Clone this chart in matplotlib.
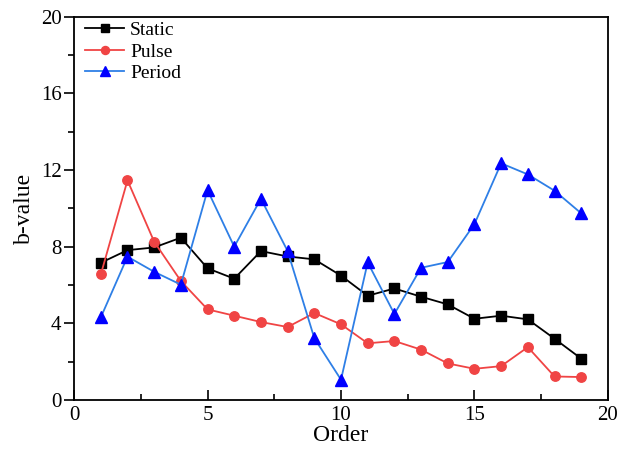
import matplotlib
matplotlib.use("Agg")
import matplotlib.pyplot as plt
from matplotlib.ticker import MultipleLocator

plt.rcParams['font.family'] = ['Liberation Serif', 'DejaVu Serif']
plt.rcParams['mathtext.fontset'] = 'stix'

# b-value per loading order
order = list(range(1, 20))
static = [7.16, 7.82, 7.96, 8.47, 6.87, 6.33, 7.77, 7.49, 7.34, 6.49,
          5.44, 5.82, 5.39, 4.99, 4.24, 4.40, 4.21, 3.20, 2.16]
pulse = [6.55, 11.46, 8.26, 6.21, 4.73, 4.40, 4.07, 3.81, 4.54, 3.95,
         2.96, 3.08, 2.63, 1.91, 1.63, 1.77, 2.76, 1.23, 1.20]
period = [4.31, 7.48, 6.69, 6.02, 10.95, 8.00, 10.50, 7.77, 3.23, 1.06,
          7.18, 4.49, 6.90, 7.20, 9.18, 12.35, 11.77, 10.92, 9.74]

fig = plt.figure(figsize=(6.28, 4.5), dpi=100)
ax = fig.add_axes([0.118, 0.111, 0.850, 0.852])

ax.plot(order, static, color='black', lw=1.3, marker='s', ms=7,
        mfc='black', mec='black', label='Static')
ax.plot(order, pulse, color='#F04444', lw=1.3, marker='o', ms=6.8,
        mfc='#F04444', mec='#F04444', label='Pulse')
ax.plot(order, period, color='#2E7FE6', lw=1.3, marker='^', ms=9,
        mfc='#0000FF', mec='#0000FF', label='Period')

ax.set_xlim(0, 20)
ax.set_ylim(0, 20)
ax.xaxis.set_major_locator(MultipleLocator(5))
ax.xaxis.set_minor_locator(MultipleLocator(2.5))
ax.yaxis.set_major_locator(MultipleLocator(4))
ax.yaxis.set_minor_locator(MultipleLocator(2))

ax.tick_params(axis='x', which='both', direction='in', top=False, labelsize=15, pad=4)
ax.tick_params(axis='y', which='both', direction='out', right=False, labelsize=15, pad=2)
ax.tick_params(which='major', length=7, width=1.2)
ax.tick_params(which='minor', length=4, width=1.2)
for s in ax.spines.values():
    s.set_linewidth(1.3)

ax.set_xlabel('Order', fontsize=17, labelpad=0)
ax.set_ylabel('b-value', fontsize=17, labelpad=4)

ax.legend(loc='upper left', bbox_to_anchor=(0.012, 1.0), frameon=False,
          fontsize=14, handlelength=2.0, labelspacing=0.2, markerscale=0.85,
          handletextpad=0.3, borderaxespad=0.0, borderpad=0.25)

fig.savefig('out.png', dpi=100)
